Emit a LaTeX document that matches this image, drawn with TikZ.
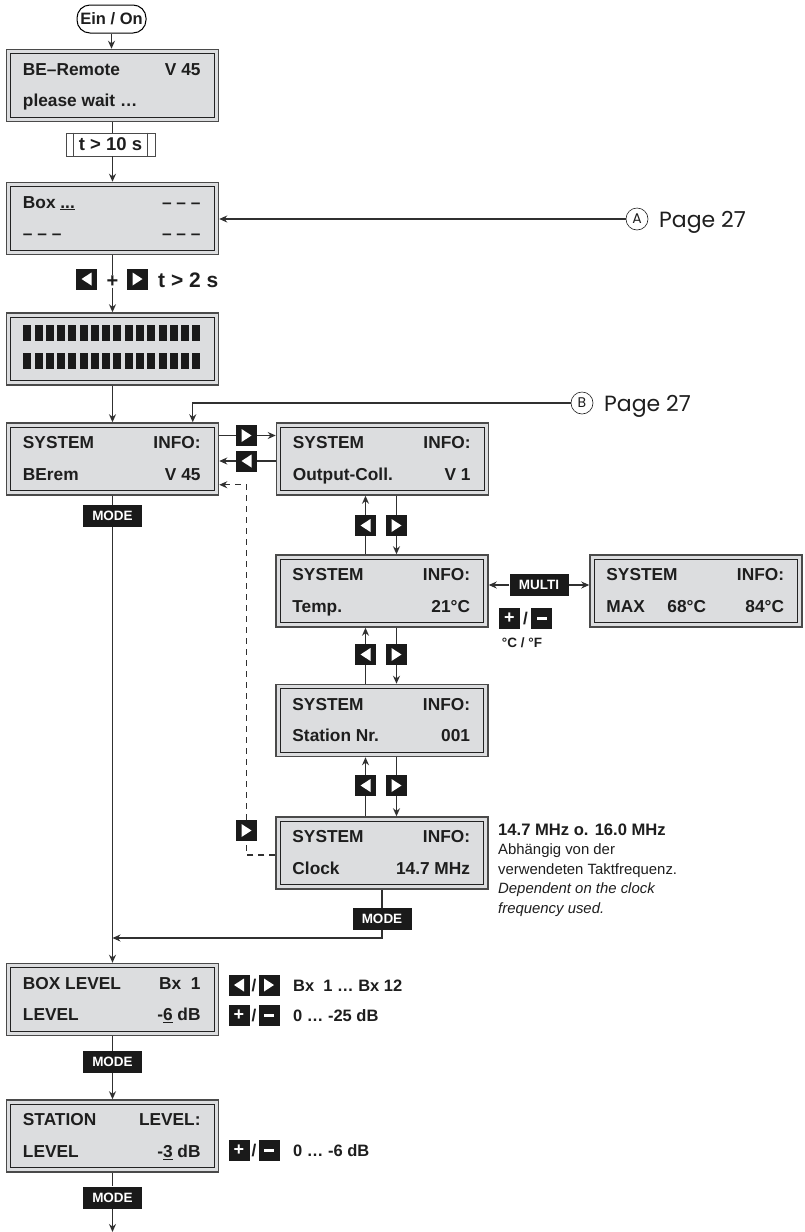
\documentclass[tikz,border=0pt]{standalone}
\usepackage{fontspec}
\setmainfont{Liberation Sans}
\newfontfamily\futura{Poppins}
\usetikzlibrary{arrows.meta,calc}
\definecolor{lcdfill}{HTML}{DCDDDF}
\definecolor{lcdout}{HTML}{4A4A4A}
\definecolor{lcdinl}{HTML}{222222}
\definecolor{ink}{HTML}{1E1E1E}
\definecolor{keyblk}{HTML}{1A1A1A}
\definecolor{wire}{HTML}{303030}
\tikzset{
  lcdbox/.style={draw=lcdout, line width=1.5pt, fill=lcdfill, minimum width=212pt, minimum height=72pt, inner sep=0pt},
  lcdinner/.style={draw=lcdinl, line width=1.3pt},
  lcdtext/.style={inner sep=0pt, text=ink, font=\bfseries\fontsize{17.3}{20}\selectfont},
  conn/.style={draw=wire, line width=1.1pt},
  arr/.style={conn, -{Stealth[length=8pt,width=7pt]}},
  key/.style={fill=keyblk, minimum width=21pt, minimum height=21pt, inner sep=0pt},
  keyR/.style={key, path picture={\fill[white] ($(path picture bounding box.center)+(-5,-6.5)$) -- ++(0,13) -- ++(10,-6.5) -- cycle;}},
  keyL/.style={key, path picture={\fill[white] ($(path picture bounding box.center)+(5,-6.5)$) -- ++(0,13) -- ++(-10,-6.5) -- cycle;}},
  keyP/.style={key, text=white, font=\bfseries\fontsize{18}{18}\selectfont},
  keyM/.style={key, path picture={\fill[white] ($(path picture bounding box.center)+(-5,-1.5)$) rectangle ++(10,3);}},
  modekey/.style={fill=keyblk, text=white, font=\bfseries\fontsize{13.5}{14}\selectfont, minimum width=59pt, minimum height=22pt, inner sep=0pt},
  sidetext/.style={inner sep=0pt, text=ink, anchor=base west, font=\bfseries\fontsize{16.5}{18}\selectfont},
  slash/.style={inner sep=0pt, text=ink, font=\bfseries\fontsize{17}{18}\selectfont},
  pagetext/.style={inner sep=0pt, text=ink, anchor=base west, font=\futura\fontsize{22}{22}\selectfont},
  circref/.style={circle, draw=ink, line width=0.6pt, minimum size=22pt, inner sep=0pt, text=ink, font=\futura\fontsize{14}{14}\selectfont},
  notetext/.style={inner sep=0pt, anchor=base west, text=ink},
}
\newcommand\lcdpanel[6]{%
  \node[lcdbox] (#1) at (#2) {};
  \draw[lcdinner] ($(#1.north west)+(5,5)$) rectangle ($(#1.south east)+(-5,-5)$);
  \node[lcdtext, anchor=base west] (#1tl) at ($(#1.north west)+(17,26.5)$) {#3};
  \node[lcdtext, anchor=base east] (#1tr) at ($(#1.north east)+(-18.5,26.5)$) {#4};
  \node[lcdtext, anchor=base west] (#1bl) at ($(#1.north west)+(17,58)$) {#5};
  \node[lcdtext, anchor=base east] (#1br) at ($(#1.north east)+(-18.5,58)$) {#6};
}
\begin{document}
\begin{tikzpicture}[x=1pt,y=-1pt]
\fill[white] (0,0) rectangle (805,1232);
\useasboundingbox (0,0) rectangle (805,1232);

% start
\node[draw=black, line width=1pt, rounded corners=13pt, minimum width=69pt, minimum height=28pt, inner sep=0pt, text=ink, font=\bfseries\fontsize{16.5}{16}\selectfont] (on) at (111.5,19) {Ein / On};

\lcdpanel{be}{112.5,85.5}{BE–Remote}{V 45}{please wait …}{}
\node[draw=lcdout, fill=white, line width=0.8pt, minimum width=89pt, minimum height=23pt, inner sep=0pt, text=ink, font=\bfseries\fontsize{18.5}{18}\selectfont] (t10) at (110.5,144.5) {t > 10 s};
\draw[draw=lcdout, line width=0.8pt] ($(t10.north west)+(8,0)$) -- ($(t10.south west)+(8,0)$);
\draw[draw=lcdout, line width=0.8pt] ($(t10.north east)+(-8,0)$) -- ($(t10.south east)+(-8,0)$);

\lcdpanel{bx}{112.5,218.5}{Box \underline{...}}{– – –}{– – –}{– – –}

\node[lcdbox] (bars) at (112.5,349) {};
\draw[lcdinner] ($(bars.north west)+(5,5)$) rectangle ($(bars.south east)+(-5,-5)$);
\foreach \i in {0,...,15} {
  \fill[keyblk] ({23.3+\i*11.27},325) rectangle ++(8,15.5);
  \fill[keyblk] ({23.3+\i*11.27},353.3) rectangle ++(8,15.5);
}

\lcdpanel{sys1}{112.5,459}{SYSTEM}{INFO:}{BErem}{V 45}
\lcdpanel{sys2}{382.5,459}{SYSTEM}{INFO:}{Output-Coll.}{V 1}
\lcdpanel{temp}{382,591}{SYSTEM}{INFO:}{Temp.}{21°C}
\lcdpanel{max}{696,591}{SYSTEM}{INFO:}{MAX}{84°C}
\node[lcdtext, anchor=base west] (max68) at ($(max.north west)+(78,58)$) {68°C};
\lcdpanel{stn}{382,720.5}{SYSTEM}{INFO:}{Station Nr.}{001}
\lcdpanel{clk}{382,853}{SYSTEM}{INFO:}{Clock}{14.7 MHz}
\lcdpanel{bl}{112.5,999.5}{BOX LEVEL}{Bx\ \ 1}{LEVEL}{-\underline{6} dB}
\lcdpanel{sl}{112.5,1136}{STATION}{LEVEL:}{LEVEL}{-\underline{3} dB}

% references A and B
\node[circref] (cA) at (637,219) {A};
\node[pagetext] (pA) at (659,227) {Page 27};
\node[circref] (cB) at (582,403) {B};
\node[pagetext] (pB) at (604,411) {Page 27};

% keys
\node[keyL] (kL0) at (86.5,279) {};
\node[keyR] (kR0) at (137.5,279) {};
\node[keyR] (kR1) at (246.5,435.5) {};
\node[keyL] (kL1) at (246.5,461) {};
\node[keyL] (kL2) at (365.5,525.5) {};
\node[keyR] (kR2) at (396.5,525.5) {};
\node[keyL] (kL3) at (365.5,654.5) {};
\node[keyR] (kR3) at (396.5,654.5) {};
\node[keyL] (kL4) at (365.5,785.5) {};
\node[keyR] (kR4) at (396.5,785.5) {};
\node[keyR] (kR5) at (246.5,830.5) {};
\node[modekey] (multi) at (539,585) {MULTI};
\node[keyP] (kP1) at (509.5,618.5) {+};
\node[slash] (sl1) at (525.5,618.5) {/};
\node[keyM] (kM1) at (541.5,618.5) {};
\node[inner sep=0pt, text=ink, font=\bfseries\fontsize{13.5}{14}\selectfont] (cf) at (522,643) {°C / °F};

\node[modekey] (mode0) at (112.5,516) {MODE};
\node[modekey] (mode1) at (382,919) {MODE};
\node[modekey] (mode2) at (112.5,1062) {MODE};
\node[modekey] (mode3) at (112.5,1197.5) {MODE};

\node[keyL] (kL6) at (239,985) {};
\node[slash] (sl6) at (254,985) {/};
\node[keyR] (kR6) at (269,985) {};
\node[sidetext] (tx6) at (293,991) {Bx\ \ 1 … Bx 12};
\node[keyP] (kP6) at (239,1015) {+};
\node[slash] (sl6b) at (254,1015) {/};
\node[keyM] (kM6) at (269,1015) {};
\node[sidetext] (tx6b) at (293,1021) {0 … -25 dB};
\node[keyP] (kP7) at (239,1150) {+};
\node[slash] (sl7) at (254,1150) {/};
\node[keyM] (kM7) at (269,1150) {};
\node[sidetext] (tx7) at (293,1156) {0 … -6 dB};

% clock note
\node[notetext, font=\bfseries\fontsize{16.6}{18}\selectfont] (n1) at (498,835) {14.7 MHz o. 16.0 MHz};
\node[notetext, font=\fontsize{14.9}{18}\selectfont] (n2) at (498,854.5) {Abhängig von der};
\node[notetext, font=\fontsize{14.9}{18}\selectfont] (n3) at (498,874.5) {verwendeten Taktfrequenz.};
\node[notetext, font=\itshape\fontsize{14.9}{18}\selectfont] (n4) at (498,893.5) {Dependent on the clock};
\node[notetext, font=\itshape\fontsize{14.9}{18}\selectfont] (n5) at (498,913) {frequency used.};

% key-combination label
\node[inner sep=0pt, text=ink, font=\bfseries\fontsize{20}{20}\selectfont] (plus0) at (112.5,281.5) {+};
\node[inner sep=0pt, anchor=base west, text=ink, font=\bfseries\fontsize{21}{20}\selectfont] (t2) at (158,287.5) {t > 2 s};

% connectors: main flow
\draw[arr] (on.south) -- (on.south |- be.north);
\draw[conn] (be.south) -- (be.south |- t10.north);
\draw[arr] (be.south |- t10.south) -- (bx.north);
\draw[conn] (bx.south) -- (plus0.north);
\draw[arr] (plus0.south) -- (bars.north);
\draw[arr] (bars.south) -- (sys1.north);
\draw[arr] (cA.west) -- (cA.west -| bx.east);
\draw[arr] (cB.west) -| ($(sys1.north west)+(187,0)$);

% SYSTEM INFO chain
\draw[conn] (sys1.east |- kR1) -- (kR1.west);
\draw[arr] (kR1.east) -- (kR1 -| sys2.west);
\draw[conn] (sys2.west |- kL1) -- (kL1.east);
\draw[arr] (kL1.west) -- (kL1 -| sys1.east);

\draw[conn] (kR2 |- sys2.south) -- (kR2.north);
\draw[arr] (kR2.south) -- (kR2 |- temp.north);
\draw[conn] (kL2 |- temp.north) -- (kL2.south);
\draw[arr] (kL2.north) -- (kL2 |- sys2.south);

\draw[conn] (kR3 |- temp.south) -- (kR3.north);
\draw[arr] (kR3.south) -- (kR3 |- stn.north);
\draw[conn] (kL3 |- stn.north) -- (kL3.south);
\draw[arr] (kL3.north) -- (kL3 |- temp.south);

\draw[conn] (kR4 |- stn.south) -- (kR4.north);
\draw[arr] (kR4.south) -- (kR4 |- clk.north);
\draw[conn] (kL4 |- clk.north) -- (kL4.south);
\draw[arr] (kL4.north) -- (kL4 |- stn.south);

\draw[arr] (multi.west) -- (multi.west -| temp.east);
\draw[arr] (multi.east) -- (multi.east -| max.west);

% dashed return
\draw[conn, dash pattern=on 6pt off 5pt] ($(clk.west)+(0,2)$) -| (kR5.south);
\draw[arr, dash pattern=on 6pt off 5pt] (kR5.north) |- ($(sys1.south east)+(0,-11)$);

% MODE flow
\coordinate (j1) at (112.5,938);
\coordinate (endpt) at (112.5,1232);
\draw[conn] (sys1.south) -- (mode0.north);
\draw[arr] (mode0.south) -- (bl.north);
\draw[conn] (clk.south) -- (mode1.north);
\draw[arr] (mode1.south) |- (j1);
\draw[conn] (bl.south) -- (mode2.north);
\draw[arr] (mode2.south) -- (sl.north);
\draw[conn] (sl.south) -- (mode3.north);
\draw[arr] (mode3.south) -- (endpt);
\end{tikzpicture}
\end{document}
